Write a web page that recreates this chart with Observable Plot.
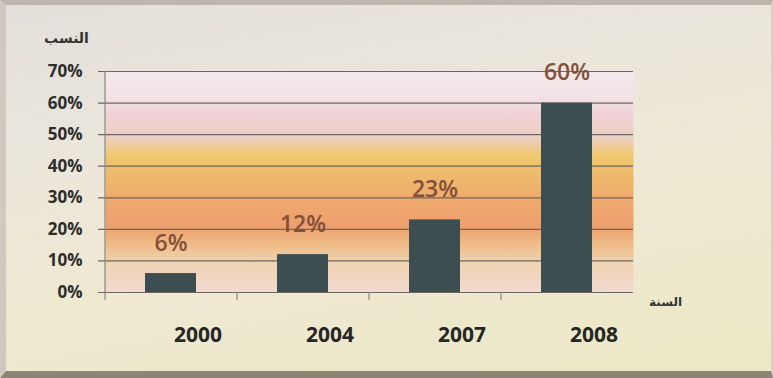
<!DOCTYPE html>
<html>
<head>
<meta charset="utf-8">
<script src="https://cdn.jsdelivr.net/npm/d3@7"></script>
<script src="https://cdn.jsdelivr.net/npm/@observablehq/plot@0.6"></script>
<style>
  html, body { margin: 0; padding: 0; }
  body { width: 773px; height: 378px; overflow: hidden; }
  #wrap { position: relative; width: 773px; height: 378px; box-sizing: border-box;
    background: linear-gradient(170deg, #e2dfda 0%, #ebe6dc 30%, #efe9d2 60%, #ece8c6 100%);
    border-top: 5px solid #bdb6ad; border-left: 6px solid #cfc9bf; border-bottom: 7px solid #8c8474; border-right: 2px solid #d8d2c6; }
  #wrap svg { position: absolute; left: -6px; top: -5px; max-width: none !important; width: 773px; height: 378px; }
</style>
</head>
<body>
<div id="wrap"></div>
<script>
const years = ["2000", "2004", "2007", "2008"];
const shares = [0.06, 0.12, 0.23, 0.60];
const shareLabels = ["6%", "12%", "23%", "60%"];
const yTicks = [0, 0.1, 0.2, 0.3, 0.4, 0.5, 0.6, 0.7];
const yTitle = "النسب";
const xTitle = "السنة";

const data = years.map((y, i) => ({year: y, share: shares[i], label: shareLabels[i]}));

const font = "'Open Sans', 'DejaVu Sans', sans-serif";

const chart = Plot.plot({
  width: 773,
  height: 378,
  marginLeft: 105,
  marginRight: 140,
  marginTop: 71,
  marginBottom: 86,
  style: {background: "transparent", fontFamily: font, overflow: "visible"},
  x: {domain: years, paddingInner: 0.61, paddingOuter: 0.305, axis: null},
  y: {domain: [0, 0.7], axis: null},
  marks: [
    Plot.frame({fill: "url(#plotbg)", stroke: "none"}),
    Plot.ruleY(yTicks, {y: d => d, stroke: "#6e6660", strokeWidth: 1.2, insetLeft: -7}),
    Plot.ruleX([years[0]], {dx: -66, y1: -0.025, y2: 0.7, stroke: "#8a8580", strokeWidth: 1.2}),
    Plot.ruleX(years.slice(1), {dx: -66, y1: -0.025, y2: 0, stroke: "#8a8580", strokeWidth: 1.2}),
    Plot.barY(data, {x: "year", y: "share", fill: "#3c4e50"}),
    Plot.text(data, {x: "year", y: "share", text: "label", dy: -30, fill: "#84503a", fontSize: 23, fontWeight: 600}),
    Plot.text(yTicks, {y: d => d, text: d => Math.round(d * 100) + "%", frameAnchor: "left", textAnchor: "end", dx: -23, fill: "#2e2e2e", fontSize: 17, fontWeight: 700}),
    Plot.text(years, {x: d => d, text: d => d, frameAnchor: "bottom", lineAnchor: "middle", dx: 27, dy: 43, fill: "#262626", fontSize: 21, fontWeight: 700}),
    Plot.text([yTitle], {text: d => d, frameAnchor: "top-left", textAnchor: "middle", lineAnchor: "middle", dx: -39, dy: -33, fill: "#333", fontSize: 14, fontWeight: 700, fontFamily: "'DejaVu Sans', sans-serif"}),
    Plot.text([xTitle], {text: d => d, frameAnchor: "bottom-right", textAnchor: "middle", lineAnchor: "middle", dx: 32, dy: 10, fill: "#333", fontSize: 12, fontWeight: 700, fontFamily: "'DejaVu Sans', sans-serif"})
  ]
});

const svg = d3.select(chart);
const defs = svg.insert("defs", ":first-child");
const grad = defs.append("linearGradient").attr("id", "plotbg").attr("x1", 0).attr("y1", 0).attr("x2", 0).attr("y2", 1);
[
  [0.00, "#f4eaee"],
  [0.13, "#f2e0e4"],
  [0.20, "#f0d2d6"],
  [0.30, "#eecfc4"],
  [0.38, "#efc86c"],
  [0.48, "#eeb86c"],
  [0.60, "#eea86e"],
  [0.70, "#ee9f6e"],
  [0.78, "#efbc86"],
  [0.87, "#f0d4b4"],
  [1.00, "#f1dad0"]
].forEach(([o, c]) => grad.append("stop").attr("offset", o).attr("stop-color", c));

document.getElementById("wrap").appendChild(chart);
</script>
</body>
</html>
